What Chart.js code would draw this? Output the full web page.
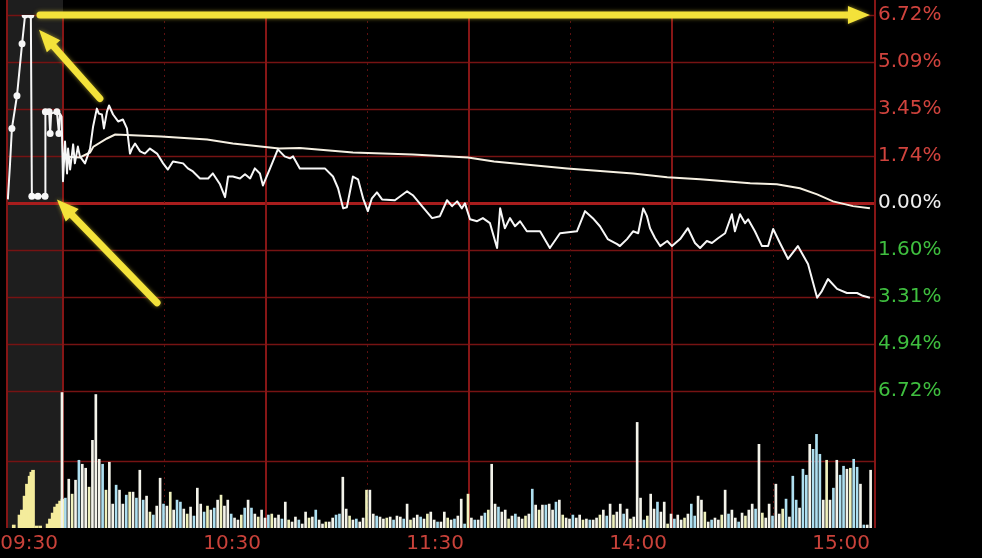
<!DOCTYPE html>
<html><head><meta charset="utf-8">
<script src="https://cdn.jsdelivr.net/npm/chart.js@4.4.1/dist/chart.umd.min.js"></script>
<style>html,body{margin:0;padding:0;background:#000;}canvas{display:block}</style>
</head><body>
<canvas id="c" width="982" height="558"></canvas>
<script>
// ---------------- data (minutes from 09:30, percent change) ----------------
const timeTickMinutes = [0, 60, 120, 180, 240];
const timeLabels = ['09:30', '10:30', '11:30', '14:00', '15:00'];
const dottedMinutes = [30, 90, 150, 210];

const priceTickValues = [6.72, 5.04, 3.36, 1.68, 0, -1.68, -3.36, -5.04, -6.72];
const priceTickLabels = ['6.72%', '5.09%', '3.45%', '1.74%', '0.00%', '1.60%', '3.31%', '4.94%', '6.72%'];

// call-auction segment (before 09:30)
const auctionMinutes = [-16.3, -15.7, -15.1, -13.6, -12.1, -11.2, -9.5, -9.2, -7.4, -5.3, -5.2, -4.1, -3.8, -3.5, -1.8, -1.2, -0.9, -0.4];
const auctionPrice   = [0.12, 1.30, 2.66, 3.83, 5.69, 6.72, 6.72, 0.23, 0.23, 0.23, 3.26, 3.26, 2.48, 3.19, 3.26, 2.48, 3.19, 3.08];
const auctionDotIdx  = [2, 3, 4, 5, 6, 7, 8, 9, 10, 11, 12, 14, 15];

// intraday price line
const priceMinutes = [0,0.6,1.2,1.5,2.1,3,3.5,4.4,5,6.5,8,8.9,10,10.6,11.5,12.1,13,13.6,14.8,16.3,17.7,18.9,19.8,20.4,21.3,22.8,24.2,25.7,27.8,29.6,31,32.5,35.5,36.9,38.4,40.5,42.9,44.3,46.4,47.9,48.8,50.2,52.3,53.8,55.3,56.7,58.2,59.1,61.2,63.5,65.5,67.1,68,70,77.4,79.8,81.3,82.8,83.9,85.7,87.2,88.7,90.1,91.3,92.8,94.3,98.1,101.7,103.4,106.1,109.1,111.4,113.5,115,116.5,117.9,118.8,120.3,122.4,124.1,126.2,128.3,129.2,130.6,132.1,133.6,135.1,137.1,141,143.9,146.9,151.9,154.3,156.6,158.7,161,163.8,164.6,166.7,168.5,170,171.5,172.6,173.5,175,176.5,178.6,180,182.4,184.7,186.8,188.3,190.3,191.8,193.6,195.7,197.7,198.6,200.1,201.6,202.5,204.5,206.6,208.4,209.9,211.9,214.3,217.2,220.2,222.9,224.3,226.1,228.8,231.7,234.7,236.4,238.5];
const priceValues  = [0.77,2.19,1.05,1.94,1.19,2.09,1.41,2.01,1.66,1.41,1.94,2.73,3.37,3.19,3.16,2.66,3.26,3.48,3.16,2.91,2.98,2.66,1.76,1.94,2.12,1.84,1.76,1.94,1.76,1.41,1.19,1.48,1.41,1.23,1.12,0.87,0.87,1.05,0.66,0.20,0.94,0.94,0.87,1.02,0.87,1.23,1.05,0.62,1.23,1.91,1.66,1.59,1.66,1.23,1.23,0.94,0.52,-0.20,-0.16,0.94,0.84,0.16,-0.30,0.16,0.37,0.12,0.09,0.41,0.27,-0.12,-0.55,-0.48,0.09,-0.12,0.05,-0.20,-0.02,-0.59,-0.66,-0.55,-0.73,-1.62,-0.20,-0.91,-0.55,-0.84,-0.66,-1.02,-1.02,-1.62,-1.09,-1.02,-0.30,-0.55,-0.84,-1.30,-1.48,-1.55,-1.30,-1.02,-1.09,-0.20,-0.48,-0.91,-1.27,-1.55,-1.37,-1.55,-1.30,-0.91,-1.44,-1.62,-1.37,-1.44,-1.27,-1.09,-0.41,-1.02,-0.41,-0.73,-0.59,-1.02,-1.55,-1.55,-0.94,-1.44,-2.01,-1.55,-2.19,-3.40,-3.16,-2.73,-3.08,-3.23,-3.23,-3.33,-3.40];

// average price line
const avgMinutes = [0,5,8,9,13,15.4,29,42.6,50.2,63.9,70,85.7,103.4,119.7,127.4,149,168.5,178.6,188.3,203.1,211,217.8,222.9,227.6,233.5,238.5];
const avgValues  = [1.66,1.62,1.80,2.01,2.30,2.44,2.37,2.26,2.12,1.94,1.96,1.80,1.73,1.62,1.48,1.23,1.05,0.91,0.84,0.70,0.66,0.52,0.30,0.05,-0.12,-0.20];

// volume, one bar per minute 0..239
const volume = [
136,30,49,34,48,68,64,60,41,88,
134,69,64,38,66,24,43,38,24,33,
36,36,30,58,28,32,16,13,22,50,
24,22,36,18,28,26,19,14,21,12,
40,24,16,22,18,20,28,33,22,28,
14,10,8,13,20,28,20,14,11,18,
10,13,14,10,13,9,26,8,6,11,
8,4,16,10,11,18,8,4,6,6,
10,13,14,51,19,12,8,9,6,10,
38,38,14,12,11,9,10,11,8,12,
11,9,24,8,10,13,11,9,14,16,
8,6,6,16,10,8,9,12,29,4,
34,10,8,8,12,15,18,64,24,21,
16,18,9,12,14,11,9,12,14,39,
23,18,23,23,24,18,26,28,13,10,
9,13,10,13,8,9,8,8,10,13,
18,12,24,13,16,24,14,19,9,11,
106,30,8,12,34,19,26,16,26,4,
14,9,13,8,10,14,24,12,32,28,
16,6,8,10,8,13,38,14,18,10,
6,15,12,18,24,19,84,15,10,24,
12,44,14,19,29,11,52,28,20,59,
53,84,79,94,74,28,68,28,40,68,
53,62,59,60,69,61,44,3,3,58];
const volumeTone =
'wcwywcwwyw'+'wwcywwcwwc'+'ywcwcwycww'+'cwywccwywc'+'wwcywcwyww'+'cwwycwcwyw'+
'wcywwcwyww'+'cwwywcwwyw'+'wccwwywcww'+'ywwcwwywcw'+'wcwywwcwyw'+'wcwwywcwwc'+
'ywcwwcywwc'+'wwywcwwywc'+'wywcwwcwyw'+'wcwwywcwwy'+'wcwywwcwyw'+'wwcywwcwwy'+
'wcwwywccww'+'ywcwwywcww'+'cwywwcwyww'+'cwwycwccwc'+'cwcccwywcw'+'ccwyccwcww';

// auction volume
const auctionVolMinutes = [-15.0,-13.3,-12.6,-11.8,-11.1,-10.3,-9.8,-9.3,-8.3,-7.2,-5.0,-4.3,-3.5,-2.8,-2.1,-1.3,-0.6];
const auctionVolume     = [3,13,18,32,44,52,56,58,2,2,4,9,15,21,24,27,29];

// yellow annotation arrows: [from minute, from pct, to minute, to pct]
const arrows = [
  [-6.8, 6.72, 238.5, 6.72],
  [10.9, 3.73, -7.1, 6.19],
  [27.8, -3.58, -1.8, 0.12]
];

// ---------------- layout constants ----------------
const PRICE_TOP = 6.72, PRICE_BOTTOM = -6.72;
const PRICE_PANEL_FRACTION = 377 / 515;
const PRICE_MIN = PRICE_TOP - (PRICE_TOP - PRICE_BOTTOM) / PRICE_PANEL_FRACTION;
const VOL_PANEL_TOP = 138;
const VOL_MAX = VOL_PANEL_TOP / (1 - PRICE_PANEL_FRACTION);
const VOL_GRID = 67;
const X_MIN = -16.55, X_MAX = 240;

const toneColor = {w: '#f3f3ea', c: '#aedff0', y: '#eff1bd'};

const pts = (xs, ys) => xs.map((x, i) => ({x: x, y: ys[i]}));
const fullPrice = pts(auctionMinutes, auctionPrice).concat(pts(priceMinutes, priceValues));
const dotSet = new Set(auctionDotIdx);

const bgPlugin = {
  id: 'bg',
  beforeDraw(chart) {
    const {ctx, chartArea: a, scales} = chart;
    ctx.save();
    ctx.fillStyle = '#000';
    ctx.fillRect(0, 0, chart.width, chart.height);
    const x0 = scales.x.getPixelForValue(0);
    ctx.fillStyle = '#1e1e1e';
    ctx.fillRect(a.left, 0, x0 - a.left, a.bottom);
    ctx.restore();
  },
  beforeDatasetsDraw(chart) {
    const {ctx, chartArea: a, scales} = chart;
    const x = scales.x, y = scales.y, yv = scales.yv;
    ctx.save();
    // horizontal price grid
    priceTickValues.forEach(v => {
      const py = Math.round(y.getPixelForValue(v)) + 0.5;
      ctx.strokeStyle = v === 0 ? '#a81d1d' : '#761313';
      ctx.lineWidth = v === 0 ? 3 : 1.5;
      ctx.beginPath(); ctx.moveTo(a.left, py); ctx.lineTo(a.right, py); ctx.stroke();
    });
    // volume grid
    const vy = Math.round(yv.getPixelForValue(VOL_GRID)) + 0.5;
    ctx.strokeStyle = '#761313'; ctx.lineWidth = 1.5;
    ctx.beginPath(); ctx.moveTo(a.left, vy); ctx.lineTo(a.right, vy); ctx.stroke();
    // dotted verticals
    ctx.setLineDash([2, 4]);
    ctx.strokeStyle = '#5c1010'; ctx.lineWidth = 1;
    dottedMinutes.forEach(m => {
      const px = Math.round(x.getPixelForValue(m)) + 0.5;
      ctx.beginPath(); ctx.moveTo(px, a.top); ctx.lineTo(px, a.bottom); ctx.stroke();
    });
    ctx.setLineDash([]);
    // solid verticals
    ctx.strokeStyle = '#861616'; ctx.lineWidth = 2;
    timeTickMinutes.forEach(m => {
      const px = Math.round(x.getPixelForValue(m));
      ctx.beginPath(); ctx.moveTo(px, m === 240 ? 0 : a.top); ctx.lineTo(px, a.bottom); ctx.stroke();
    });
    // left border
    ctx.beginPath(); ctx.moveTo(a.left, 0); ctx.lineTo(a.left, a.bottom); ctx.stroke();
    ctx.restore();
  },
  afterDatasetsDraw(chart) {
    const {ctx, scales} = chart;
    const x = scales.x, y = scales.y;
    ctx.save();
    ctx.strokeStyle = '#f3e23a';
    ctx.fillStyle = '#f3e23a';
    ctx.shadowColor = 'rgba(240,220,60,0.55)';
    ctx.shadowBlur = 4;
    ctx.lineCap = 'round';
    arrows.forEach(([m1, p1, m2, p2]) => {
      const x1 = x.getPixelForValue(m1), y1 = y.getPixelForValue(p1);
      const x2 = x.getPixelForValue(m2), y2 = y.getPixelForValue(p2);
      const ang = Math.atan2(y2 - y1, x2 - x1);
      const hl = 22, hw = 9;
      const bx = x2 - Math.cos(ang) * hl, by = y2 - Math.sin(ang) * hl;
      ctx.lineWidth = 7;
      ctx.beginPath(); ctx.moveTo(x1, y1); ctx.lineTo(bx, by); ctx.stroke();
      ctx.beginPath();
      ctx.moveTo(x2, y2);
      ctx.lineTo(bx + Math.sin(ang) * hw, by - Math.cos(ang) * hw);
      ctx.lineTo(bx - Math.sin(ang) * hw, by + Math.cos(ang) * hw);
      ctx.closePath(); ctx.fill();
    });
    ctx.restore();
  }
};

new Chart(document.getElementById('c'), {
  type: 'line',
  data: {
    datasets: [
      {
        type: 'bar', label: '竞价量', yAxisID: 'yv',
        data: pts(auctionVolMinutes, auctionVolume),
        backgroundColor: '#f4ec9c', barThickness: 3, order: 5
      },
      {
        type: 'bar', label: '成交量', yAxisID: 'yv',
        data: volume.map((v, i) => ({x: i, y: v})),
        backgroundColor: volume.map((v, i) => toneColor[volumeTone[i]] || '#f3f3ea'),
        barThickness: 2, order: 4
      },
      {
        type: 'line', label: '均价', yAxisID: 'y',
        data: pts(avgMinutes, avgValues),
        borderColor: '#f6f0e2', borderWidth: 2, pointRadius: 0, tension: 0, order: 2
      },
      {
        type: 'line', label: '价格', yAxisID: 'y',
        data: fullPrice,
        borderColor: '#f7f7f7', borderWidth: 2, tension: 0, borderJoinStyle: 'round',
        pointRadius: c => dotSet.has(c.dataIndex) ? 3.5 : 0,
        pointBackgroundColor: '#f7f7f7', pointBorderWidth: 0, order: 1
      }
    ]
  },
  options: {
    responsive: false, animation: false, devicePixelRatio: 1,
    layout: {autoPadding: false, padding: {left: 7, top: 13, right: 0, bottom: 0}},
    plugins: {legend: {display: false}, tooltip: {enabled: false}},
    scales: {
      x: {
        type: 'linear', min: X_MIN, max: X_MAX, offset: false,
        grid: {display: false, drawTicks: false}, border: {display: false},
        afterBuildTicks: s => { s.ticks = timeTickMinutes.map(v => ({value: v})); },
        afterFit: s => { s.height = 30; },
        ticks: {
          align: 'end', labelOffset: -5, padding: 4, maxRotation: 0, autoSkip: false,
          color: '#c9423a', font: {family: 'DejaVu Sans', size: 20},
          callback: (v, i) => timeLabels[i]
        }
      },
      y: {
        position: 'right', min: PRICE_MIN, max: PRICE_TOP,
        grid: {display: false, drawTicks: false}, border: {display: false},
        afterBuildTicks: s => { s.ticks = priceTickValues.map(v => ({value: v})); },
        afterFit: s => { s.width = 107; },
        ticks: {
          padding: 3, autoSkip: false,
          font: {family: 'DejaVu Sans', size: 20},
          color: c => c.tick.value > 0 ? '#d0433d' : (c.tick.value < 0 ? '#3fbf3f' : '#efefef'),
          callback: (v, i) => priceTickLabels[i]
        }
      },
      yv: {display: false, min: 0, max: VOL_MAX}
    }
  },
  plugins: [bgPlugin]
});
</script>
</body></html>
